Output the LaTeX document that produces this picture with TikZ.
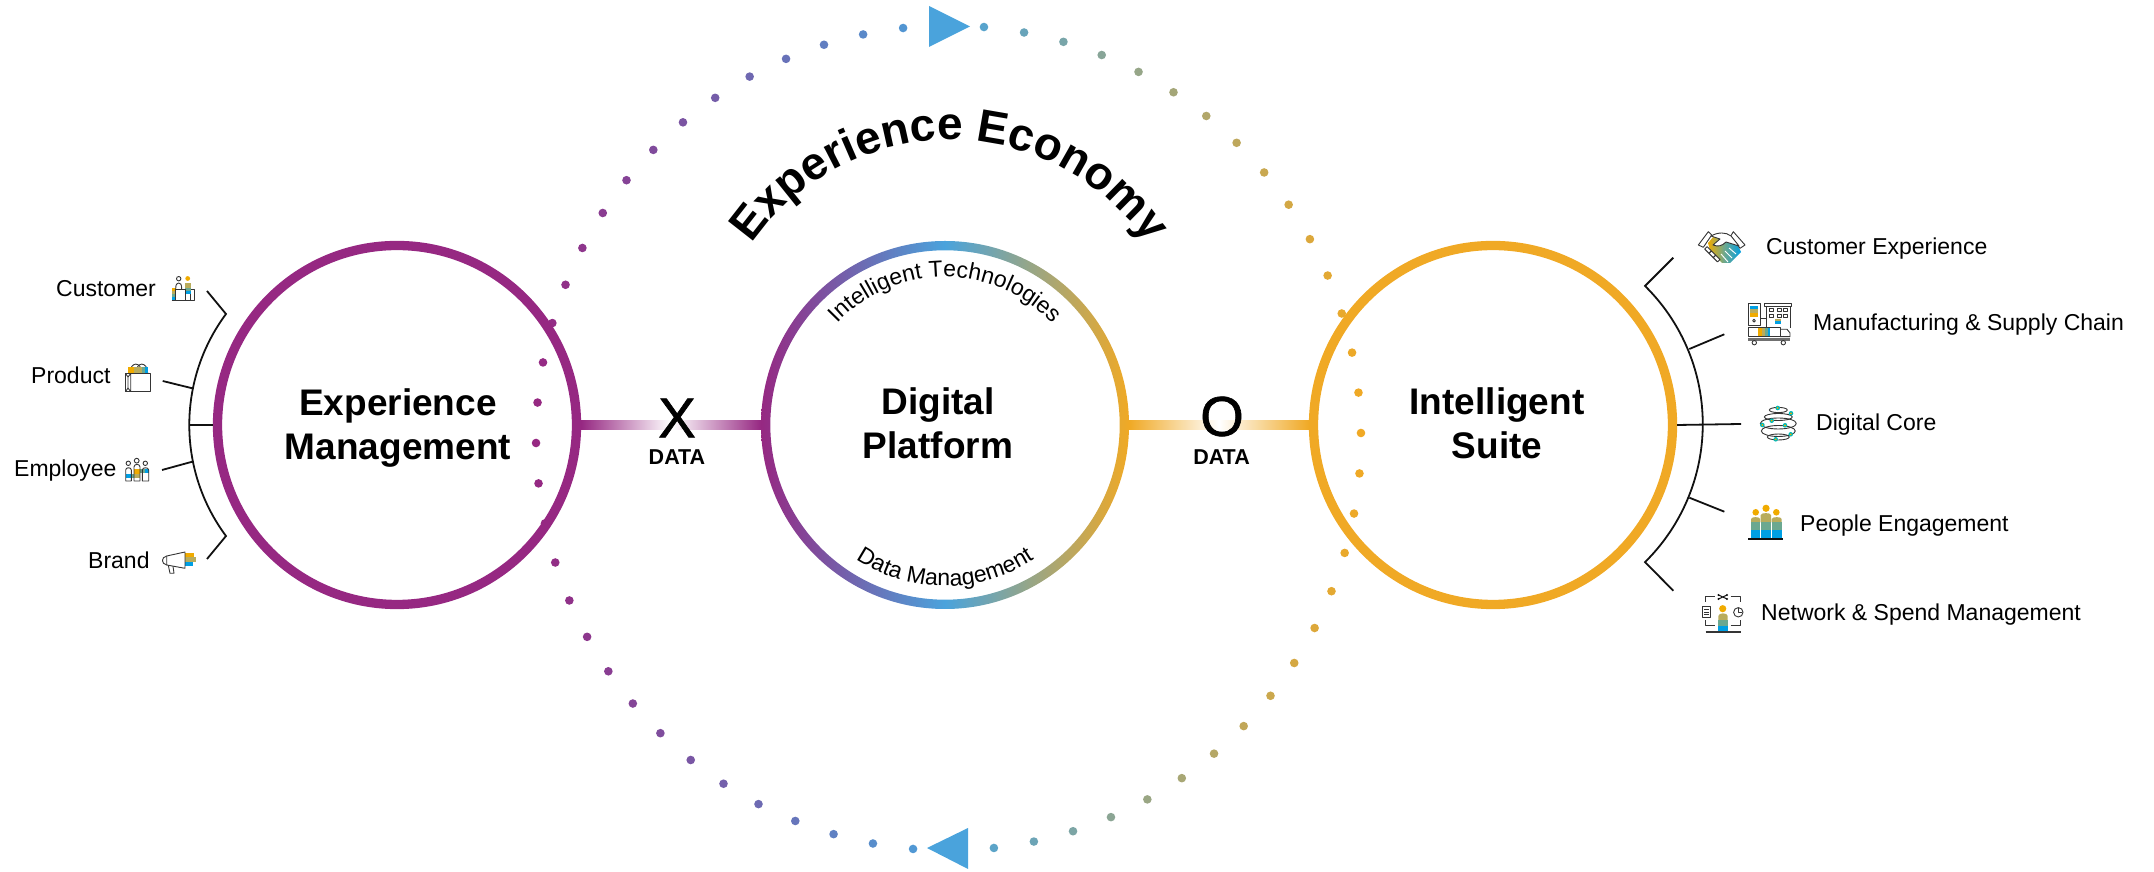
\documentclass[tikz,border=0pt]{standalone}
\usepackage{fontspec}
\setmainfont{Liberation Sans}
\newfontface\medfont[FakeBold=1.2]{Liberation Sans}
\usetikzlibrary{decorations.text,calc}
\definecolor{mpurple}{HTML}{962882}
\definecolor{mblue}{HTML}{4AA3DC}
\definecolor{morange}{HTML}{F0A925}
\definecolor{iorange}{HTML}{F0AB00}
\definecolor{iolive}{HTML}{B9AC5C}
\definecolor{igreen}{HTML}{6BA890}
\definecolor{iblue}{HTML}{009FE3}
\definecolor{ink}{HTML}{111111}
\newcommand{\ibar}[5]{\fill[#5] (#1,#2) rectangle (#3,#4);}
\tikzset{
  ringnode/.style={circle,inner sep=0pt,minimum size=359pt,line width=9.3pt},
  ringlabel/.style={inner sep=0pt,align=center,font=\fontsize{37}{44}\selectfont\bfseries,text=black},
  sidelabel/.style={inner sep=0pt,anchor=base west,font=\fontsize{23}{27}\selectfont,text=black},
  bigletter/.style={inner sep=0pt,font=\fontsize{56}{60}\selectfont\medfont,text=black},
  datalabel/.style={inner sep=0pt,font=\fontsize{21.5}{24}\selectfont\bfseries,text=black},
  bracketline/.style={draw=ink,line width=1.8pt},
  iconline/.style={draw=ink!85,line width=.9pt,line join=round},
  arctext/.style={decorate,decoration={text along path,text align=center,text={#1}}}
}
\begin{document}
\begin{tikzpicture}[x=1pt,y=1pt]
\useasboundingbox (0,0) rectangle (2154,872);
% dotted orbit
\foreach \k in {0,...,63}{
  \ifnum\k=31\else\ifnum\k=63\else
    \pgfmathsetmacro\ang{4.93+5.625*\k}
    \pgfmathsetmacro\px{948.5+412.5*sin(\ang)}
    \pgfmathsetmacro\py{434+412.5*cos(\ang)}
    \pgfmathsetmacro\t{(\px-536)/825}
    \pgfmathsetmacro\pa{min(100,max(0,\t*200))}
    \pgfmathsetmacro\pb{min(100,max(0,(\t-.5)*200))}
    \ifdim\t pt<.5pt
      \fill[mblue!\pa!mpurple] (\px,\py) circle (4.3);
    \else
      \fill[morange!\pb!mblue] (\px,\py) circle (4.3);
    \fi
  \fi\fi
}
\fill[mblue] (929,866) -- (929,825) -- (970,845.5) -- cycle;
\fill[mblue] (968,44) -- (968,3) -- (927,24) -- cycle;
% rings
\node[ringnode,draw=mpurple] (em) at (397,447) {};
\node[ringnode,draw=morange] (is) at (1493,447) {};
\coordinate (dpc) at (945,447);
\shade[even odd rule,left color=mpurple,right color=morange,middle color=mblue]
  (dpc) circle (184) (dpc) circle (174.7);
\node[ringnode] (dp) at (dpc) {};
% data connectors
\shade[left color=mpurple,right color=mpurple,middle color=white]
  ($(em.east)+(0,4.5)$) rectangle ($(dp.west)+(0,-4.5)$);
\shade[left color=morange,right color=morange,middle color=white]
  ($(dp.east)+(0,4.5)$) rectangle ($(is.west)+(0,-4.5)$);
\node[bigletter] (x) at (677,454) {X};
\node[datalabel] (xd) at (677,415) {DATA};
\node[bigletter] (o) at (1222,455.5) {O};
\node[datalabel] (od) at (1221.5,415) {DATA};
% ring labels
\node[ringlabel,anchor=center] (eml) at (398,444) {Experience\\Management};
\node[ringlabel,anchor=center] (dpl) at (938,449) {Digital\\Platform};
\node[ringlabel,anchor=center] (isl) at (1497,449) {Intelligent\\Suite};
% curved texts
\path[arctext={|\fontsize{46}{50}\selectfont\bfseries|Experience Economy}]
  ($(950,492)+(150:240)$) arc (150:30:240);
\path[arctext={|\fontsize{23}{27}\selectfont|Intelligent Technologies}]
  ($(dpc)+(140:148)$) arc (140:40:148);
\path[arctext={|\fontsize{23}{27}\selectfont|Data Management}]
  ($(dpc)+(225:161)$) arc (225:315:161);
% left bracket
\coordinate (lbta) at (207,581); \coordinate (lbtb) at (226,558);
\coordinate (lbba) at (207,313); \coordinate (lbbb) at (226,336);
\coordinate (lbm) at (189.3,447);
\draw[bracketline] (lbta) -- (lbtb) arc (143.4:216.6:186.2) -- (lbba);
\draw[bracketline] (lbm) -- (em.west);
\coordinate (lt1a) at (162.7,491); \coordinate (lt1b) at (192.3,483.7);
\coordinate (lt2a) at (162,402); \coordinate (lt2b) at (192.3,410.3);
\draw[bracketline] (lt1a) -- (lt1b);
\draw[bracketline] (lt2a) -- (lt2b);
% right bracket
\coordinate (rbta) at (1673.3,614.3); \coordinate (rbtb) at (1645,586);
\coordinate (rbba) at (1673.3,281.3); \coordinate (rbbb) at (1645,310);
\coordinate (rbm) at (1741,448);
\draw[bracketline] (rbta) -- (rbtb) arc (45.4:-45.4:193.9) -- (rbba);
\draw[bracketline] (is.east) -- (rbm);
\coordinate (rt1a) at (1724.3,537.7); \coordinate (rt1b) at (1689.3,523);
\coordinate (rt2a) at (1724.3,360.3); \coordinate (rt2b) at (1689.3,374.3);
\draw[bracketline] (rt1a) -- (rt1b);
\draw[bracketline] (rt2a) -- (rt2b);
% side labels
\node[sidelabel] (l1) at (56,575) {Customer};
\node[sidelabel] (l2) at (31,488) {Product};
\node[sidelabel] (l3) at (14,395) {Employee};
\node[sidelabel] (l4) at (88,303) {Brand};
\node[sidelabel] (r1) at (1766,617) {Customer Experience};
\node[sidelabel] (r2) at (1813,541) {Manufacturing \& Supply Chain};
\node[sidelabel] (r3) at (1816,441) {Digital Core};
\node[sidelabel] (r4) at (1800,340) {People Engagement};
\node[sidelabel] (r5) at (1761,251) {Network \& Spend Management};
% icons, drawn in image pixel coordinates
\begin{scope}[shift={(0,872)},yscale=-1]
% customer
\ibar{171.5}{288.5}{175.7}{291.5}{iorange}\ibar{171.5}{291.5}{175.7}{294.5}{iolive}
\ibar{171.5}{294.5}{175.7}{297.5}{igreen}\ibar{171.5}{297.5}{175.7}{300.7}{iblue}
\ibar{185}{283}{190.5}{288}{iolive}\ibar{185}{288}{190.5}{291}{igreen}\ibar{185}{291}{190.5}{294}{iblue}
\fill[iorange] (187.7,278.5) circle (2.4);
\draw[iconline] (178.7,278.7) circle (2.2);
\draw[iconline] (175.7,289) .. controls (175.7,284) and (177,283) .. (178.7,283) .. controls (180.4,283) and (181.7,284) .. (181.7,289);
\draw[iconline] (171.5,300.7) -- (194.8,300.7) -- (194.8,289.5) -- (190.5,289.5);
\draw[iconline] (175.7,289) -- (175.7,300.7) (185,289) -- (185,300.7) (190.5,294) -- (190.5,300.7) (175.7,289) -- (185,289);
% product
\draw[iconline] (130,373.5) .. controls (130,361) and (141.7,361) .. (141.7,373.5);
\draw[iconline] (136,373.5) .. controls (136,361) and (147.7,361) .. (147.7,373.5);
\ibar{127.7}{367.3}{134.3}{373.3}{iorange}\ibar{134.3}{367.3}{141.7}{373.3}{iolive}
\ibar{141.7}{367.3}{145}{373.3}{igreen}\ibar{145}{367.3}{148.3}{373.3}{iblue}
\draw[iconline] (125.5,373.5) rectangle (150.7,391.7);
\draw[iconline] (130.7,373.5) -- (130.7,391.7) (125.5,373.5) -- (128,377) -- (128,388) -- (125.5,391.7) (130.7,373.5) -- (128,377) (128,388) -- (130.7,391.7);
% employee
\draw[iconline] (128.3,463.3) circle (2.2) (136.7,460.7) circle (2.4) (145.3,463.3) circle (2.2);
\ibar{125.7}{474.3}{131.3}{478}{iblue}\ibar{131.3}{474.3}{134}{478}{igreen}
\ibar{134}{469}{140}{473.8}{iorange}\ibar{134}{473.8}{140}{478}{iolive}\ibar{140}{469}{142.3}{473}{igreen}
\ibar{142.3}{469}{148.7}{473.5}{igreen}\ibar{145}{469}{148.7}{473.5}{iblue}
\draw[iconline] (125.7,481) -- (125.7,470) .. controls (125.7,467) and (131.3,467) .. (131.3,470) -- (131.3,481) -- cycle;
\draw[iconline] (134,481) -- (134,467) .. controls (134,463.5) and (140,463.5) .. (140,467) -- (140,481) -- cycle;
\draw[iconline] (142.3,481) -- (142.3,470) .. controls (142.3,467) and (148.7,467) .. (148.7,470) -- (148.7,481) -- cycle;
% brand
\ibar{185}{553.3}{194}{557.3}{iorange}\ibar{185}{557.3}{196}{561.7}{iolive}\ibar{185}{561.7}{192.7}{566}{iblue}
\draw[iconline] (166.7,556) -- (185,552) -- (185,568.3) -- (166.7,565) -- cycle;
\draw[iconline] (166.7,556) .. controls (161,557) and (161,564) .. (166.7,565);
\draw[iconline] (168.3,565.3) -- (170,573.3) -- (174,573.3) -- (173,566.2);
% handshake
\shade[left color=iorange,right color=iblue,middle color=igreen]
  (1708,243) -- (1714,236) -- (1722,234) -- (1738,246) -- (1741,252) -- (1730,263) -- (1722,263) -- (1710,250) -- cycle;
\draw[iconline,fill=white] (1708.3,231.7) -- (1698.3,245) -- (1703.3,247.3) -- (1711.7,235) -- cycle;
\draw[iconline,fill=white] (1733.3,231.7) -- (1745,245) -- (1740,248.3) -- (1730.7,236) -- cycle;
\draw[iconline,fill=white] (1711,236) .. controls (1718,232) and (1726,232) .. (1731,236) -- (1739,246) -- (1726,242) .. controls (1722,246) and (1718,247) .. (1713,245) -- (1720,239) -- cycle;
\foreach \q in {0,1,2}{
  \draw[iconline,fill=white,rotate around={45:(1708+4.3*\q,250+4.3*\q)}] (1705+4.3*\q,248.3+4.3*\q) rectangle (1711+4.3*\q,251.7+4.3*\q);
}
\draw[white,line width=.9pt] (1736,254) -- (1729,248) (1732,258) -- (1725,251) (1728,262) -- (1721,254);
% manufacturing
\ibar{1750.3}{306}{1758.3}{309.3}{iblue}\ibar{1750.3}{309.3}{1758.3}{313.3}{iolive}\ibar{1750.3}{313.3}{1758.3}{317.3}{iorange}
\draw[iconline] (1748.3,303.3) rectangle (1760,325);
\draw[iconline] (1754,320.7) circle (1.4);
\draw[iconline] (1760,318.3) -- (1766,318.3);
\draw[iconline] (1764,303.3) rectangle (1791.7,306);
\draw[iconline] (1766,306) -- (1766,326.7) (1790,306) -- (1790,328);
\foreach \wx in {1769.5,1777.5,1783.5}{\foreach \wy in {308.3,314}{
  \draw[iconline,line width=.7pt] (\wx,\wy) rectangle ++(4,3.3);}}
\ibar{1775}{318.6}{1780.7}{321}{iolive}\ibar{1775}{321}{1780.7}{324}{iblue}
\ibar{1758.3}{328}{1762}{336.5}{iorange}\ibar{1762}{328}{1765}{336.5}{iolive}\ibar{1765}{328}{1767.5}{336.5}{igreen}\ibar{1767.5}{328}{1770}{336.5}{iblue}
\draw[iconline] (1748.3,327.3) rectangle (1780,336.7);
\draw[iconline] (1780,329.3) -- (1787,329.3) -- (1790,333) -- (1790,336.7) -- (1780,336.7);
\fill[ink!60] (1748,337.7) rectangle (1790,341);
\draw[iconline,fill=white] (1754.3,342.7) circle (2.2) (1783.3,342.7) circle (2.2);
% digital core
\foreach \ey/\erx/\ery in {410/9/2.6,417/14/3.5,423.5/18/5.5,431/17/5.5,437/11/3}{
  \draw[iconline] (1778.3,\ey) ellipse ({\erx} and {\ery});
}
\foreach \nx/\ny in {1777.7/408,1791/413.3,1771.7/420.7,1762.3/425,1785/425.3,1790.7/434.3,1775.7/439.3}{
  \fill[teal!55!cyan] (\nx,\ny) circle (2.3);
  \fill[iorange] (\nx,\ny) circle (1);
}
% people
\fill[iorange] (1755.7,512.3) circle (3.3) (1766,508.3) circle (3.6) (1776.3,512.3) circle (3.3);
\foreach \xa/\xb/\ya in {1751/1760/517,1771.7/1781.7/517,1760.7/1771/513}{
  \fill[iolive] (\xa,522.3) -- (\xa,\ya+2) .. controls (\xa,\ya-.5) and (\xb,\ya-.5) .. (\xb,\ya+2) -- (\xb,522.3) -- cycle;
  \fill[igreen] (\xa,522.3) rectangle (\xb,530);
  \fill[iblue] (\xa,530) rectangle (\xb,538.7);
}
\draw[ink,line width=1.1pt] (1748.3,539) -- (1783.3,539);
% network
\draw[iconline] (1705.7,601.7) -- (1705.7,596.7) -- (1715,596.7) (1730.7,596.7) -- (1740.7,596.7) -- (1740.7,601.7)
  (1705.7,620) -- (1705.7,625.7) -- (1715,625.7) (1730.7,625.7) -- (1740.7,625.7) -- (1740.7,620);
\draw[ink,line width=1pt] (1718.5,595) -- (1727,599) (1727,595) -- (1718.5,599);
\fill[ink] (1718.5,595) circle (1.1) (1727,595) circle (1.1) (1718.5,599) circle (1.1) (1727,599) circle (1.1);
\fill[iorange] (1722.7,608.7) circle (3.6);
\fill[iolive] (1718.3,620) -- (1718.3,616) .. controls (1718.3,612.5) and (1727.7,612.5) .. (1727.7,616) -- (1727.7,620) -- cycle;
\ibar{1718.3}{620}{1727.7}{626}{igreen}\ibar{1718.3}{626}{1727.7}{631.7}{iblue}
\draw[ink!85,line width=1.1pt] (1705.7,632) -- (1740.7,632);
\draw[iconline] (1702.3,606.7) rectangle (1710.7,617.3);
\draw[iconline,line width=.7pt] (1704,609.5) -- (1709,609.5) (1704,612) -- (1709,612) (1704,614.5) -- (1709,614.5);
\draw[iconline] (1738.3,612.3) circle (4.7);
\draw[iconline,line width=.7pt] (1738.3,608.5) -- (1738.3,612.3) -- (1741.5,612.3);
\end{scope}
\end{tikzpicture}
\end{document}
